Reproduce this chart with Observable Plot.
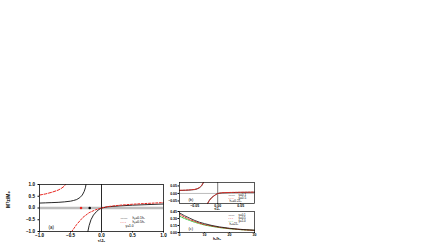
<!DOCTYPE html>
<html><head><meta charset="utf-8">
<script src="https://cdn.jsdelivr.net/npm/d3@7"></script>
<script src="https://cdn.jsdelivr.net/npm/@observablehq/plot@0.6"></script>
<style>
html,body{margin:0;padding:0;background:#fff;}
#c{position:relative;width:447px;height:245px;overflow:hidden;background:#fff;}
#c svg{position:absolute;overflow:visible;background:transparent;}
</style></head><body><div id="c"></div>
<script>
// ---------- Panel (a): M_z^T/M_0 vs tau/J_0 ----------
const aTicks = [-1, -0.5, 0, 0.5, 1];
const aBlackLeftT = [-1.0, -0.9, -0.8, -0.7, -0.6, -0.5, -0.45, -0.4, -0.35, -0.31, -0.28, -0.26, -0.25];
const aBlackLeftM = [0.21, 0.22, 0.23, 0.24, 0.26, 0.29, 0.32, 0.36, 0.44, 0.55, 0.7, 0.86, 1.0];
const aBlackRightT = [-0.22, -0.2, -0.17, -0.13, -0.08, -0.04, 0, 0.1, 0.3, 0.5, 0.7, 1.0];
const aBlackRightM = [-1.0, -0.75, -0.5, -0.3, -0.15, -0.06, 0, 0.05, 0.09, 0.12, 0.14, 0.17];
const aRedLeftT = [-1.0, -0.9, -0.8, -0.7, -0.65, -0.6, -0.58];
const aRedLeftM = [0.55, 0.6, 0.67, 0.76, 0.83, 0.93, 1.0];
const aRedRightT = [-0.48, -0.4, -0.3, -0.2, -0.1, 0, 0.1, 0.3, 0.5, 0.7, 1.0];
const aRedRightM = [-1.0, -0.7, -0.4, -0.2, -0.08, 0, 0.06, 0.12, 0.16, 0.19, 0.23];
const aMarkT = [-0.33, -0.19];
const aMarkM = [0.0, 0.0];
const aMarkColor = ["#e8251f", "#000000"];
const aLegend = ["h\u1d67=0.1h\u2093", "h\u1d67=0.5h\u2093", "\u03b3=1.0"];

// ---------- Panel (b): zoom near tau = 0 ----------
const bXTicks = [-0.05, 0, 0.05];
const bYTicks = [-0.05, 0, 0.05];
const bLeftT = [-0.083, -0.07, -0.06, -0.05, -0.045, -0.04, -0.035, -0.031];
const bLeftBlack = [0.02, 0.021, 0.023, 0.026, 0.03, 0.037, 0.05, 0.073];
const bLeftRed = [0.021, 0.022, 0.024, 0.027, 0.031, 0.039, 0.053, 0.073];
const bRightT = [-0.022, -0.018, -0.014, -0.01, -0.005, 0, 0.01, 0.03, 0.05, 0.08];
const bRightBlack = [-0.067, -0.045, -0.03, -0.02, -0.009, 0.0, 0.004, 0.006, 0.007, 0.008];
const bRightRed = [-0.067, -0.047, -0.032, -0.021, -0.01, 0.0, 0.005, 0.007, 0.008, 0.009];
const bLegend = ["\u03b3=0.1", "\u03b3=0.5", "h\u2080=0.2J\u2080"];

// ---------- Panel (c): decay vs h_x/h_0 ----------
const cXTicks = [0, 10, 20, 30];
const cYTicks = [0, 0.15, 0.3, 0.45];
const cX = [0, 2, 4, 6, 8, 10, 13, 16, 20, 25, 30];
const cBlack = [0.42, 0.36, 0.31, 0.26, 0.22, 0.19, 0.15, 0.12, 0.09, 0.065, 0.05];
const cRed = [0.39, 0.33, 0.28, 0.24, 0.2, 0.17, 0.14, 0.11, 0.085, 0.06, 0.045];
const cGreen = [0.35, 0.3, 0.26, 0.22, 0.19, 0.16, 0.13, 0.105, 0.08, 0.058, 0.045];
const cLegend = ["\u03b3=0.1", "\u03b3=0.5", "\u03b3=1.0", "h\u2080=2J\u2080"];

const BLACK = "#111", RED = "#e8251f", GREEN = "#3cc43c", GRAY = "#bdbdbd";
const zip = (xs, ys) => xs.map((x, i) => ({x, y: ys[i]}));
const fmt1 = d3.format(".1f"), fmt2 = d3.format(".2f"), fmt0 = d3.format("d");
const c = document.getElementById("c");
function place(svg, left, top) { svg.style.left = left + "px"; svg.style.top = top + "px"; c.appendChild(svg); }
const txt = d => d;
// one text mark per legend row (dx/dy are constants in Plot)
function label(s, anchor, dx, dy, opts = {}) {
  return Plot.text([s], {text: txt, frameAnchor: anchor, dx, dy, textAnchor: "start", fontWeight: "normal", ...opts});
}

// Panel (a)
place(Plot.plot({
  width: 175, height: 75, marginLeft: 39, marginRight: 12, marginTop: 14, marginBottom: 14,
  style: {fontSize: "4.6px", fontFamily: "Liberation Sans, Arial, sans-serif", fontWeight: "bold", background: "transparent", overflow: "visible"},
  x: {domain: [-1, 1], ticks: aTicks, tickFormat: fmt1, tickSize: 1.5, tickPadding: 1, label: null},
  y: {domain: [-1, 1], ticks: aTicks, tickFormat: fmt1, tickSize: 1.5, tickPadding: 3, label: null},
  marks: [
    Plot.ruleY([0], {stroke: GRAY, strokeWidth: 2.5}),
    Plot.ruleX([0], {stroke: BLACK, strokeWidth: 0.9}),
    Plot.line(zip(aBlackLeftT, aBlackLeftM), {x: "x", y: "y", stroke: BLACK, strokeWidth: 0.9}),
    Plot.line(zip(aBlackRightT, aBlackRightM), {x: "x", y: "y", stroke: BLACK, strokeWidth: 0.9}),
    Plot.line(zip(aRedLeftT, aRedLeftM), {x: "x", y: "y", stroke: RED, strokeWidth: 1, strokeDasharray: "3,1.6"}),
    Plot.line(zip(aRedRightT, aRedRightM), {x: "x", y: "y", stroke: RED, strokeWidth: 1, strokeDasharray: "2,1.6"}),
    Plot.dot(aMarkT.map((t, i) => ({t, m: aMarkM[i], col: aMarkColor[i]})), {x: "t", y: "m", fill: d => d.col, r: 1.3, stroke: "none"}),
    Plot.frame({stroke: BLACK, strokeWidth: 0.8}),
    label("\u2014\u2014", "bottom-right", -43, -12.5, {fill: BLACK, fontSize: 3.4}),
    label("- - -", "bottom-right", -43, -8.8, {fill: RED, fontSize: 3.4, fontWeight: "bold"}),
    label(aLegend[0], "bottom-right", -31, -12.5, {fontSize: 3.3}),
    label(aLegend[1], "bottom-right", -31, -8.8, {fontSize: 3.3}),
    label(aLegend[2], "bottom-right", -38, -5, {fontSize: 3.3}),
    Plot.text(["(a)"], {text: txt, frameAnchor: "bottom-left", dx: 9, dy: -3, fontSize: 4.5, fontWeight: "normal"}),
    Plot.text(["\u03c4/J\u2080"], {text: txt, frameAnchor: "bottom", dy: 10.5, fontSize: 4.3}),
    Plot.text(["M\u1d40z/M\u2080"], {text: txt, frameAnchor: "left", dx: -31, rotate: -90, fontSize: 5})
  ]
}), 0, 170);

// Panel (b)
place(Plot.plot({
  width: 110, height: 40, marginLeft: 19, marginRight: 16, marginTop: 12, marginBottom: 7,
  style: {fontSize: "3.5px", fontFamily: "Liberation Sans, Arial, sans-serif", fontWeight: "bold", background: "transparent", overflow: "visible"},
  x: {domain: [-0.083, 0.08], ticks: bXTicks, tickFormat: fmt2, tickSize: 1, tickPadding: 0, label: null},
  y: {domain: [-0.067, 0.073], ticks: bYTicks, tickFormat: fmt2, tickSize: 1.5, tickPadding: 1, label: null},
  marks: [
    Plot.ruleY([0], {stroke: GRAY, strokeWidth: 1}),
    Plot.ruleX([0], {stroke: "#555", strokeWidth: 0.8}),
    Plot.line(zip(bLeftT, bLeftBlack), {x: "x", y: "y", stroke: BLACK, strokeWidth: 0.8}),
    Plot.line(zip(bRightT, bRightBlack), {x: "x", y: "y", stroke: BLACK, strokeWidth: 0.8}),
    Plot.line(zip(bLeftT, bLeftRed), {x: "x", y: "y", stroke: RED, strokeWidth: 0.9, strokeDasharray: "2,1.2"}),
    Plot.line(zip(bRightT, bRightRed), {x: "x", y: "y", stroke: RED, strokeWidth: 0.9, strokeDasharray: "2,1.2"}),
    Plot.frame({stroke: BLACK, strokeWidth: 0.7}),
    label("\u2014\u2014", "bottom-right", -26, -8, {fill: BLACK, fontSize: 3.2}),
    label("- - -", "bottom-right", -26, -4.7, {fill: RED, fontSize: 3.2, fontWeight: "bold"}),
    label(bLegend[0], "bottom-right", -16, -8, {fontSize: 3.1}),
    label(bLegend[1], "bottom-right", -16, -4.7, {fontSize: 3.1}),
    label(bLegend[2], "bottom-right", -25, -1.5, {fontSize: 3.1}),
    Plot.text(["(b)"], {text: txt, frameAnchor: "bottom-left", dx: 9, dy: -2.5, fontSize: 4, fontWeight: "normal"}),
    Plot.text(["\u03c4/J\u2080"], {text: txt, frameAnchor: "bottom", dy: 6.6, fontSize: 3.3})
  ]
}), 160, 170);

// Panel (c)
place(Plot.plot({
  width: 110, height: 40, marginLeft: 19, marginRight: 16, marginTop: 6, marginBottom: 13,
  style: {fontSize: "3.5px", fontFamily: "Liberation Sans, Arial, sans-serif", fontWeight: "bold", background: "transparent", overflow: "visible"},
  x: {domain: [0, 30], ticks: cXTicks, tickFormat: fmt0, tickSize: 1, tickPadding: 0, label: null},
  y: {domain: [0, 0.45], ticks: cYTicks, tickFormat: fmt2, tickSize: 1.5, tickPadding: 1, label: null},
  marks: [
    Plot.line(zip(cX, cGreen), {x: "x", y: "y", stroke: GREEN, strokeWidth: 1, strokeDasharray: "2,1"}),
    Plot.line(zip(cX, cRed), {x: "x", y: "y", stroke: RED, strokeWidth: 0.9, strokeDasharray: "2,1.2"}),
    Plot.line(zip(cX, cBlack), {x: "x", y: "y", stroke: BLACK, strokeWidth: 0.8}),
    Plot.frame({stroke: BLACK, strokeWidth: 0.7}),
    label("\u2014\u2014", "top-right", -26, 2, {fill: BLACK, fontSize: 2.9}),
    label("- - -", "top-right", -26, 5.1, {fill: RED, fontSize: 2.9, fontWeight: "bold"}),
    label("- - -", "top-right", -26, 8.2, {fill: GREEN, fontSize: 2.9, fontWeight: "bold"}),
    label(cLegend[0], "top-right", -16, 2, {fontSize: 2.9}),
    label(cLegend[1], "top-right", -16, 5.1, {fontSize: 2.9}),
    label(cLegend[2], "top-right", -16, 8.2, {fontSize: 2.9}),
    label(cLegend[3], "top-right", -25, 11.5, {fontSize: 2.9}),
    Plot.text(["(c)"], {text: txt, frameAnchor: "bottom-left", dx: 9, dy: -3, fontSize: 4, fontWeight: "normal"}),
    Plot.text(["h\u2093/h\u2080"], {text: txt, frameAnchor: "bottom", dy: 7, fontSize: 3.5})
  ]
}), 160, 205);
</script></body></html>
